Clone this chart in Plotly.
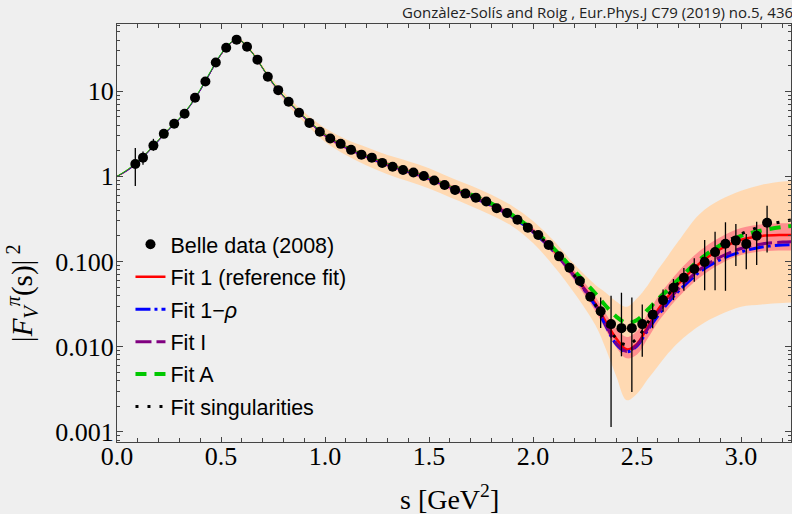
import plotly.graph_objects as go

# ---------------- data ----------------
s_data = [0.088, 0.125, 0.175, 0.225, 0.275, 0.325, 0.375, 0.425, 0.475, 0.525,
          0.575, 0.625, 0.675, 0.725, 0.775, 0.825, 0.875, 0.925, 0.975, 1.025,
          1.075, 1.125, 1.175, 1.225, 1.275, 1.325, 1.375, 1.425, 1.475, 1.525,
          1.575, 1.625, 1.675, 1.725, 1.775, 1.825, 1.875, 1.925, 1.975, 2.025,
          2.075, 2.125, 2.175, 2.225, 2.275, 2.325, 2.375, 2.425, 2.475, 2.525,
          2.575, 2.625, 2.675, 2.725, 2.775, 2.825, 2.875, 2.925, 2.975, 3.025,
          3.075, 3.125]
y_data = [1.40, 1.66, 2.30, 3.16, 4.15, 5.43, 8.39, 13.0, 21.8, 32.5,
          40.4, 33.4, 23.5, 14.8, 10.3, 7.52, 5.58, 4.25, 3.34, 2.79,
          2.41, 2.05, 1.80, 1.66, 1.44, 1.30, 1.19, 1.11, 1.01, 0.893,
          0.794, 0.694, 0.628, 0.563, 0.506, 0.423, 0.372, 0.310, 0.250, 0.205,
          0.156, 0.115, 0.0845, 0.059, 0.0386, 0.026, 0.0184, 0.0165, 0.0165, 0.0184,
          0.0237, 0.0352, 0.0492, 0.0645, 0.0817, 0.0987, 0.129, 0.162, 0.176, 0.161,
          0.201, 0.286]
err_plus = [0.76, 0.30, 0.46] + [0] * 42 + [
    0.0119, 0.0212, 0.0265, 0.0214, 0.0129, 0.0085, 0.0118, 0.0131, 0.0194,
    0.0273, 0.0803, 0.095, 0.127, 0.1, 0.05, 0.093, 0.167]
err_minus = [0.627, 0.29, 0.30] + [0] * 42 + [
    0.0094, 0.01726, 0.0088, 0.01356, 0.0108, 0.0073, 0.0095, 0.014, 0.0192,
    0.0239, 0.0526, 0.0829, 0.1167, 0.0875, 0.08, 0.11, 0.158]

s_fit = [0.0, 0.05, 0.1, 0.15, 0.2, 0.25, 0.3, 0.35, 0.4, 0.45,
         0.5, 0.55, 0.575, 0.6, 0.65, 0.7, 0.75, 0.8, 0.85, 0.9,
         0.95, 1.0, 1.1, 1.2, 1.3, 1.4, 1.5, 1.6, 1.7, 1.8,
         1.9, 2.0, 2.1, 2.2, 2.3, 2.35, 2.4, 2.45, 2.5, 2.55,
         2.6, 2.65, 2.7, 2.8, 2.9, 3.0, 3.1, 3.2, 3.25]
fit1 = [1.0, 1.18, 1.47, 1.95, 2.65, 3.6, 4.75, 6.7, 10.3, 16.8,
        27.0, 37.5, 40.5, 38.5, 28.5, 18.8, 12.4, 8.8, 6.5, 4.95,
        3.85, 3.05, 2.2, 1.72, 1.38, 1.15, 0.95, 0.75, 0.595, 0.465,
        0.34, 0.228, 0.135, 0.068, 0.032, 0.0195, 0.0125, 0.0093, 0.0108, 0.017,
        0.027, 0.039, 0.055, 0.095, 0.14, 0.18, 0.2, 0.205, 0.205]
fit1_rho = [1.0, 1.17, 1.45, 1.93, 2.62, 3.56, 4.7, 6.65, 10.2, 16.7,
            27.0, 37.3, 40.3, 38.3, 28.3, 18.6, 12.2, 8.65, 6.4, 4.85,
            3.77, 2.98, 2.14, 1.67, 1.34, 1.11, 0.92, 0.73, 0.58, 0.455,
            0.333, 0.222, 0.131, 0.066, 0.030, 0.0175, 0.0107, 0.0087, 0.0102, 0.0155,
            0.023, 0.033, 0.045, 0.075, 0.105, 0.13, 0.148, 0.156, 0.157]
fit_I = [1.0, 1.18, 1.46, 1.94, 2.64, 3.58, 4.73, 6.68, 10.25, 16.8,
         27.0, 37.4, 40.4, 38.4, 28.4, 18.7, 12.3, 8.72, 6.45, 4.9,
         3.8, 3.0, 2.17, 1.7, 1.36, 1.13, 0.94, 0.74, 0.588, 0.46,
         0.336, 0.224, 0.132, 0.066, 0.031, 0.018, 0.011, 0.0088, 0.0105, 0.016,
         0.025, 0.035, 0.048, 0.08, 0.113, 0.142, 0.161, 0.169, 0.171]
fit_A = [1.0, 1.2, 1.5, 1.98, 2.7, 3.65, 4.82, 6.8, 10.5, 17.2,
         27.6, 38.0, 40.8, 38.6, 28.4, 18.8, 12.5, 8.9, 6.6, 5.05,
         3.93, 3.12, 2.26, 1.77, 1.42, 1.18, 0.98, 0.775, 0.615, 0.48,
         0.352, 0.236, 0.142, 0.077, 0.042, 0.030, 0.0225, 0.019, 0.0205, 0.027,
         0.036, 0.047, 0.062, 0.105, 0.155, 0.2, 0.232, 0.255, 0.262]
fit_sing = [1.0, 1.18, 1.47, 1.95, 2.65, 3.6, 4.75, 6.7, 10.3, 16.8,
            27.0, 37.5, 40.5, 38.5, 28.5, 18.8, 12.4, 8.8, 6.5, 4.95,
            3.85, 3.05, 2.2, 1.72, 1.38, 1.15, 0.95, 0.75, 0.595, 0.465,
            0.34, 0.228, 0.135, 0.068, 0.031, 0.019, 0.0125, 0.0105, 0.0125, 0.019,
            0.029, 0.041, 0.057, 0.1, 0.155, 0.21, 0.26, 0.295, 0.31]

band_wide_lo = [0.97, 1.14, 1.42, 1.89, 2.57, 3.49, 4.6, 6.5, 10.0, 16.3,
                26.2, 36.4, 39.3, 36.5, 27.0, 17.6, 11.4, 7.9, 5.75, 4.32,
                3.27, 2.53, 1.78, 1.34, 1.06, 0.875, 0.72, 0.57, 0.45, 0.35,
                0.26, 0.165, 0.088, 0.042, 0.0178, 0.0094, 0.0045, 0.00235, 0.0028, 0.0041,
                0.0059, 0.0084, 0.0113, 0.0176, 0.0238, 0.0294, 0.0313, 0.0325, 0.033]
band_wide_hi = [1.03, 1.22, 1.52, 2.01, 2.73, 3.71, 4.9, 6.9, 10.6, 17.3,
                27.8, 38.6, 41.7, 40.6, 30.1, 20.1, 13.45, 9.8, 7.35, 5.67,
                4.53, 3.69, 2.73, 2.2, 1.78, 1.51, 1.25, 0.98, 0.78, 0.61,
                0.45, 0.30, 0.175, 0.092, 0.053, 0.043, 0.034, 0.0294, 0.037, 0.052,
                0.08, 0.118, 0.175, 0.36, 0.53, 0.68, 0.80, 0.873, 0.885]
band_fit1_lo = [0.985, 1.16, 1.45, 1.92, 2.61, 3.55, 4.68, 6.6, 10.15, 16.5,
                26.6, 36.9, 39.9, 37.9, 28.0, 18.4, 12.1, 8.55, 6.3, 4.78,
                3.7, 2.87, 2.05, 1.6, 1.28, 1.07, 0.88, 0.69, 0.55, 0.43,
                0.315, 0.21, 0.122, 0.059, 0.026, 0.0156, 0.0098, 0.0073, 0.0081, 0.0124,
                0.0194, 0.0277, 0.0385, 0.0646, 0.0938, 0.119, 0.132, 0.135, 0.135]
band_fit1_hi = [1.015, 1.2, 1.49, 1.98, 2.69, 3.65, 4.82, 6.8, 10.45, 17.1,
                27.4, 38.1, 41.1, 39.1, 29.0, 19.2, 12.7, 9.05, 6.7, 5.12,
                4.0, 3.25, 2.36, 1.85, 1.49, 1.24, 1.03, 0.81, 0.645, 0.505,
                0.37, 0.248, 0.15, 0.078, 0.0385, 0.0244, 0.0163, 0.013, 0.0153, 0.0241,
                0.0383, 0.055, 0.077, 0.133, 0.193, 0.247, 0.274, 0.281, 0.281]

legend_names = ["Belle data (2008)", "Fit 1 (reference fit)", "Fit 1\u2212<i>\u03c1</i>",
                "Fit I", "Fit A", "Fit singularities"]
y_tickvals = [0.001, 0.01, 0.1, 1, 10]
y_ticktext = ["0.001", "0.010", "0.100", "1", "10"]
y_minor = [m * 10 ** e for e in range(-4, 2) for m in range(2, 10)]

# ---------------- figure ----------------
BG = "#efefef"
SERIF = "Liberation Serif, Times New Roman, serif"
SANS = "Liberation Sans, Arial, sans-serif"

fig = go.Figure()

# uncertainty bands
fig.add_trace(go.Scatter(x=s_fit, y=band_wide_lo, mode="lines", line=dict(width=0, shape="spline"),
                         showlegend=False, hoverinfo="skip"))
fig.add_trace(go.Scatter(x=s_fit, y=band_wide_hi, mode="lines", line=dict(width=0, shape="spline"),
                         fill="tonexty", fillcolor="#ffd9b2", showlegend=False, hoverinfo="skip"))
fig.add_trace(go.Scatter(x=s_fit, y=band_fit1_lo, mode="lines", line=dict(width=0, shape="spline"),
                         showlegend=False, hoverinfo="skip"))
fig.add_trace(go.Scatter(x=s_fit, y=band_fit1_hi, mode="lines", line=dict(width=0, shape="spline"),
                         fill="tonexty", fillcolor="#ff8f8f", showlegend=False, hoverinfo="skip"))

split = s_fit.index(1.7)
fits = [
    (fit1, legend_names[1], "#ff0000", "solid", 2.5, 2),
    (fit1_rho, legend_names[2], "#0000ff", "15px,4px,3px,4px", 3, 3),
    (fit_I, legend_names[3], "#800080", "16px,5px", 3, 4),
    (fit_A, legend_names[4], "#00c800", "11px,8px", 4, 5),
    (fit_sing, legend_names[5], "#000000", "3px,9px", 3, 6),
]
for vals, name, col, dash, lw, rank in fits:
    if rank != 6:
        fig.add_trace(go.Scatter(x=s_fit[:split + 1], y=vals[:split + 1], mode="lines",
                                 line=dict(color=col, width=1, shape="spline"),
                                 legendgroup=name, showlegend=False, hoverinfo="skip"))
    fig.add_trace(go.Scatter(x=s_fit[split:], y=vals[split:], mode="lines", name=name,
                             line=dict(color=col, width=lw, dash=dash, shape="spline"),
                             legendgroup=name, legendrank=rank))

fig.add_trace(go.Scatter(
    x=s_data, y=y_data, mode="markers", name=legend_names[0], legendgroup="data", legendrank=1,
    marker=dict(color="black", size=10),
    error_y=dict(type="data", symmetric=False, array=err_plus, arrayminus=err_minus,
                 color="black", thickness=1.3, width=0),
))

axis_common = dict(showline=True, linecolor="#444", linewidth=1.3, mirror="ticks",
                   ticks="inside", tickcolor="#444", tickwidth=1, showgrid=False, zeroline=False,
                   tickfont=dict(family=SERIF, size=26, color="black"))

fig.update_xaxes(range=[0, 3.24], dtick=0.5, tick0=0, tickformat=".1f", ticklen=5,
                 ticklabelstandoff=-9,
                 minor=dict(dtick=0.1, ticks="inside", ticklen=4, tickcolor="#444"),
                 **axis_common)
fig.update_yaxes(type="log", range=[-3.12, 1.79], tickmode="array", tickvals=y_tickvals,
                 ticktext=y_ticktext, ticklen=6, ticklabelstandoff=-3,
                 minor=dict(tickmode="array", tickvals=y_minor, ticks="inside", ticklen=3,
                            tickcolor="#444"),
                 **axis_common)

fig.update_layout(
    width=792, height=514,
    margin=dict(l=117, r=1, t=24, b=72),
    paper_bgcolor=BG, plot_bgcolor=BG,
    showlegend=True,
    legend=dict(x=0.02, y=0.522, xanchor="left", yanchor="top", bgcolor="rgba(0,0,0,0)",
                font=dict(family=SANS, size=21.5, color="black"), tracegroupgap=1.5,
                traceorder="grouped"),
    annotations=[
        dict(text="Gonzàlez-Solís and Roig , Eur.Phys.J C79 (2019) no.5, 436",
             xref="paper", yref="paper", x=1.0055, y=1.0295, xanchor="right", yanchor="middle",
             showarrow=False, font=dict(family="Open Sans, sans-serif", size=15, color="#222")),
        dict(text="|<i>F</i><sub><i>V</i></sub><sup><i>\u03c0</i></sup>(s)|<sup> 2</sup>",
             xref="paper", yref="paper", x=-0.141, y=0.356, xanchor="center", yanchor="middle",
             textangle=-90, showarrow=False, font=dict(family=SERIF, size=29, color="black")),
        dict(text="s [GeV<sup>2</sup>]", xref="paper", yref="paper", x=0.493, y=-0.1325,
             xanchor="center", yanchor="middle", showarrow=False,
             font=dict(family=SERIF, size=28, color="black")),
    ],
)

fig.write_html("out.html")
